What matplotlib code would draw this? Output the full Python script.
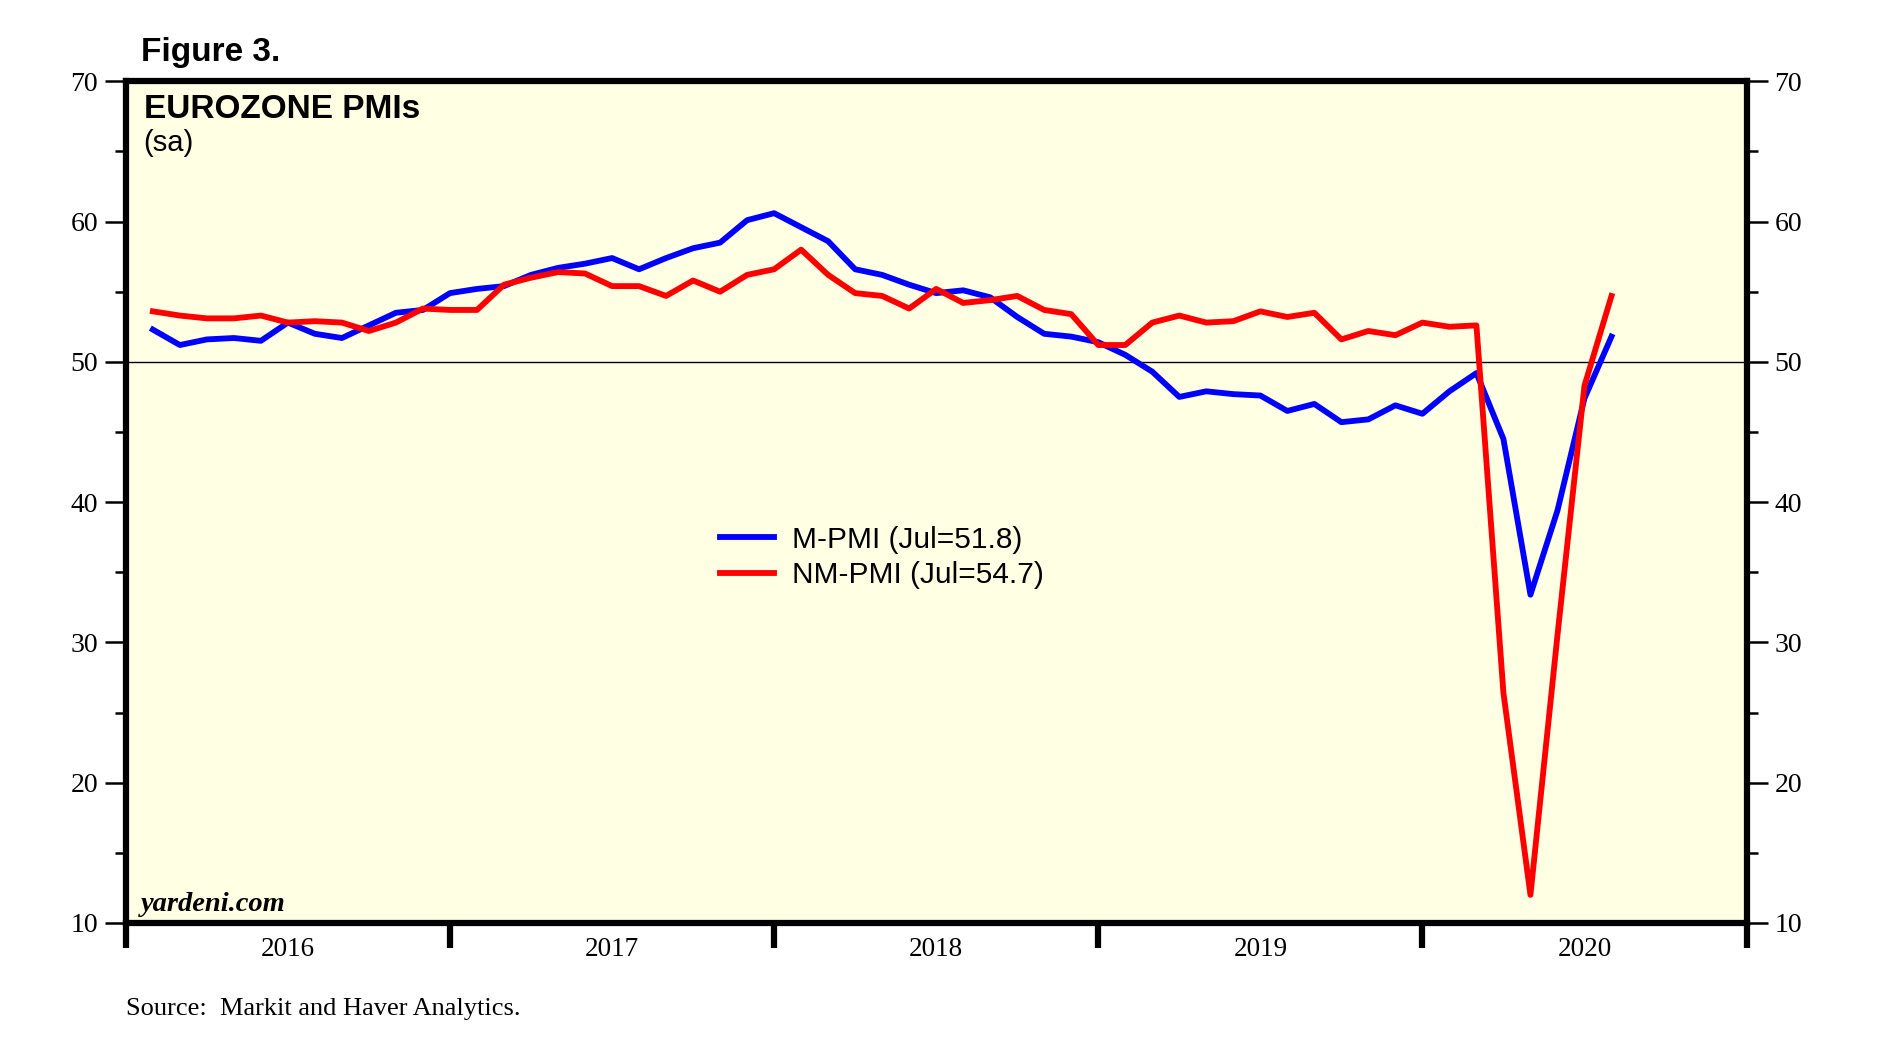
import numpy as np
import matplotlib
matplotlib.use("Agg")
import matplotlib.pyplot as plt
from matplotlib.ticker import MultipleLocator, FixedLocator, NullFormatter

# Eurozone PMIs, monthly Jan 2016 - Jul 2020
m_pmi = [52.3, 51.2, 51.6, 51.7, 51.5, 52.8, 52.0, 51.7, 52.6, 53.5, 53.7, 54.9,
         55.2, 55.4, 56.2, 56.7, 57.0, 57.4, 56.6, 57.4, 58.1, 58.5, 60.1, 60.6,
         59.6, 58.6, 56.6, 56.2, 55.5, 54.9, 55.1, 54.6, 53.2, 52.0, 51.8, 51.4,
         50.5, 49.3, 47.5, 47.9, 47.7, 47.6, 46.5, 47.0, 45.7, 45.9, 46.9, 46.3,
         47.9, 49.2, 44.5, 33.4, 39.4, 47.4, 51.8]
nm_pmi = [53.6, 53.3, 53.1, 53.1, 53.3, 52.8, 52.9, 52.8, 52.2, 52.8, 53.8, 53.7,
          53.7, 55.5, 56.0, 56.4, 56.3, 55.4, 55.4, 54.7, 55.8, 55.0, 56.2, 56.6,
          58.0, 56.2, 54.9, 54.7, 53.8, 55.2, 54.2, 54.4, 54.7, 53.7, 53.4, 51.2,
          51.2, 52.8, 53.3, 52.8, 52.9, 53.6, 53.2, 53.5, 51.6, 52.2, 51.9, 52.8,
          52.5, 52.6, 26.4, 12.0, 30.5, 48.3, 54.7]
years = [2016, 2017, 2018, 2019, 2020]

# month index -> fractional year (point sits at end of month)
x = 2016 + (np.arange(len(m_pmi)) + 1) / 12.0

serif = ['Liberation Serif', 'DejaVu Serif']
sans = ['Liberation Sans', 'DejaVu Sans']

fig = plt.figure(figsize=(18.78, 10.56), dpi=100)
ax = fig.add_axes([0.067, 0.126, 0.863, 0.797])
ax.set_facecolor('#ffffe3')

ax.axhline(50, color='black', lw=1.0, zorder=1)
ax.plot(x, m_pmi, color='#0000ff', lw=4.2, label='M-PMI (Jul=51.8)', zorder=3)
ax.plot(x, nm_pmi, color='#ff0000', lw=4.2, label='NM-PMI (Jul=54.7)', zorder=3)

ax.set_xlim(2016, 2021)
ax.set_ylim(10, 70)

# y axis, both sides
ax.yaxis.set_major_locator(MultipleLocator(10))
ax.yaxis.set_minor_locator(MultipleLocator(5))
ax.tick_params(axis='y', which='both', left=True, right=True,
               labelleft=True, labelright=True, direction='out', width=1.8)
ax.tick_params(axis='y', which='major', length=15, pad=5)
ax.tick_params(axis='y', which='minor', length=8)
for lab in ax.get_yticklabels():
    lab.set_family(serif)
    lab.set_fontsize(20)

# x axis: year boundaries as ticks, year names centred
ax.xaxis.set_major_locator(FixedLocator(list(range(2016, 2022))))
ax.xaxis.set_major_formatter(NullFormatter())
ax.xaxis.set_minor_locator(FixedLocator([y + 0.5 for y in years]))
ax.set_xticklabels([str(y) for y in years], minor=True)
ax.tick_params(axis='x', which='major', direction='out', length=18, width=4.5)
ax.tick_params(axis='x', which='minor', length=0, pad=10)
for lab in ax.get_xticklabels(minor=True):
    lab.set_family(serif)
    lab.set_fontsize(19.5)

for s in ax.spines.values():
    s.set_linewidth(4.5)

ax.text(0.011, 0.957, 'EUROZONE PMIs', transform=ax.transAxes, ha='left', va='baseline',
        fontsize=24, fontweight='bold', family=sans)
ax.text(0.011, 0.917, '(sa)', transform=ax.transAxes, ha='left', va='baseline',
        fontsize=21, family=sans)
ax.text(0.009, 0.014, 'yardeni.com', transform=ax.transAxes, ha='left', va='baseline',
        fontsize=20.5, fontweight='bold', style='italic', family=serif)

leg = ax.legend(loc='center left', bbox_to_anchor=(0.35, 0.434), frameon=False,
                prop={'family': sans, 'size': 21.5}, handlelength=1.8,
                handletextpad=0.6, labelspacing=0.25)

fig.text(0.0753, 0.942, 'Figure 3.', ha='left', va='baseline', fontsize=24,
         fontweight='bold', family=sans)
fig.text(0.067, 0.0386, 'Source:  Markit and Haver Analytics.', ha='left', va='baseline',
         fontsize=19, family=serif)

fig.savefig('out.png', dpi=100)
